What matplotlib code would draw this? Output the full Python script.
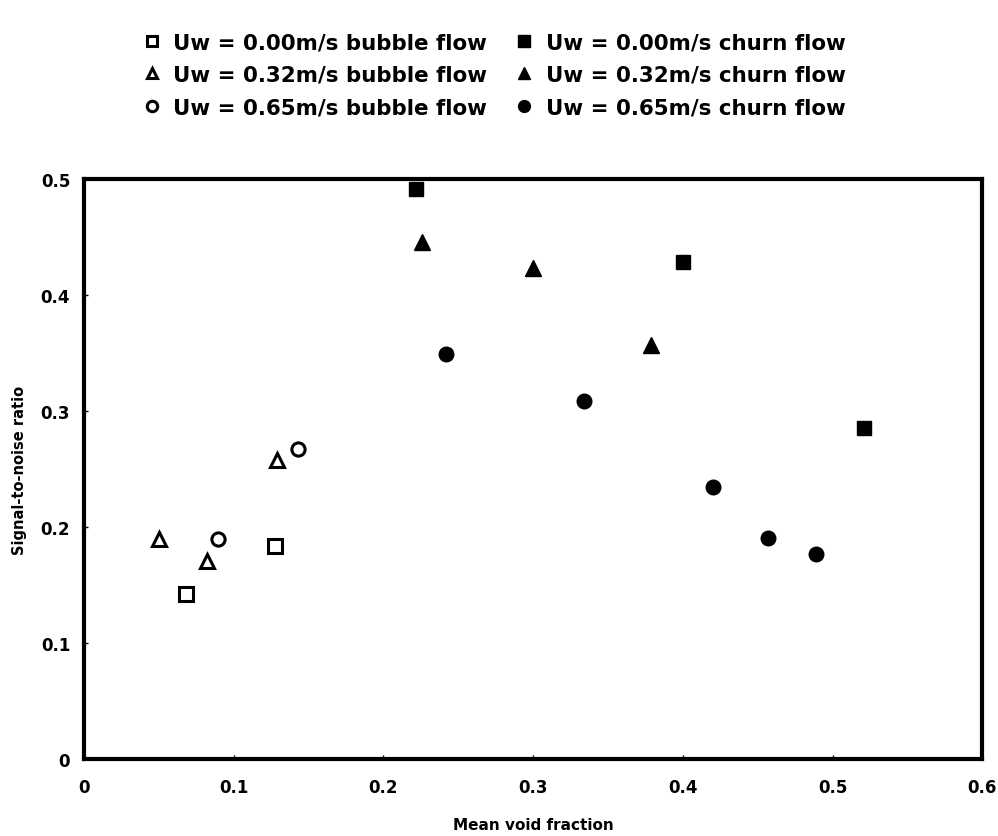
import matplotlib.pyplot as plt
from matplotlib.lines import Line2D

# Uw = 0.00 m/s
bubble_000_x = [0.068, 0.1275]
bubble_000_y = [0.142, 0.184]
churn_000_x = [0.2216, 0.400, 0.521]
churn_000_y = [0.491, 0.428, 0.285]

# Uw = 0.32 m/s
bubble_032_x = [0.050, 0.082, 0.129]
bubble_032_y = [0.190, 0.171, 0.258]
churn_032_x = [0.226, 0.300, 0.379]
churn_032_y = [0.446, 0.423, 0.357]

# Uw = 0.65 m/s
bubble_065_x = [0.0895, 0.143]
bubble_065_y = [0.190, 0.267]
churn_065_x = [0.242, 0.334, 0.420, 0.457, 0.489]
churn_065_y = [0.349, 0.309, 0.2345, 0.1905, 0.177]

x_ticks = [0, 0.1, 0.2, 0.3, 0.4, 0.5, 0.6]
y_ticks = [0, 0.1, 0.2, 0.3, 0.4, 0.5]

plt.rcParams['font.family'] = ['DejaVu Sans']
plt.rcParams['font.weight'] = 'bold'

fig = plt.figure(figsize=(9.98, 8.37), dpi=100)
ax = fig.add_axes([0.0842, 0.092, 0.9, 0.693])

open_kw = dict(linestyle='none', markerfacecolor='white', markeredgecolor='black',
               markeredgewidth=2.2, color='black')
fill_kw = dict(linestyle='none', color='black')

ax.plot(bubble_000_x, bubble_000_y, marker='s', markersize=9.5, **open_kw)
ax.plot(bubble_032_x, bubble_032_y, marker='^', markersize=9.5, **open_kw)
ax.plot(bubble_065_x, bubble_065_y, marker='o', markersize=9.5, **open_kw)
ax.plot(churn_000_x, churn_000_y, marker='s', markersize=10, **fill_kw)
ax.plot(churn_032_x, churn_032_y, marker='^', markersize=11, **fill_kw)
ax.plot(churn_065_x, churn_065_y, marker='o', markersize=10.5, **fill_kw)

ax.set_xlim(0, 0.6)
ax.set_ylim(0, 0.5)
ax.set_xticks(x_ticks)
ax.set_yticks(y_ticks)
ax.set_xticklabels([f'{t:g}' for t in x_ticks], fontsize=12, fontweight='bold')
ax.set_yticklabels([f'{t:g}' for t in y_ticks], fontsize=12, fontweight='bold')
ax.tick_params(direction='in', length=3, width=1, pad=14)
ax.tick_params(axis='y', pad=10)
for s in ax.spines.values():
    s.set_linewidth(3)

ax.set_xlabel('Mean void fraction', fontsize=11, fontweight='bold', labelpad=15)
ax.set_ylabel('Signal-to-noise ratio', fontsize=10.5, fontweight='bold', labelpad=10)

handles = [
    Line2D([], [], marker='s', markersize=7.5, **open_kw),
    Line2D([], [], marker='^', markersize=7.5, **open_kw),
    Line2D([], [], marker='o', markersize=7.5, **open_kw),
    Line2D([], [], marker='s', markersize=8.5, **fill_kw),
    Line2D([], [], marker='^', markersize=9, **fill_kw),
    Line2D([], [], marker='o', markersize=8.5, **fill_kw),
]
labels = [
    'Uw = 0.00m/s bubble flow', 'Uw = 0.32m/s bubble flow', 'Uw = 0.65m/s bubble flow',
    'Uw = 0.00m/s churn flow', 'Uw = 0.32m/s churn flow', 'Uw = 0.65m/s churn flow',
]
fig.legend(handles, labels, ncol=2, loc='upper left', bbox_to_anchor=(0.124, 0.983),
           frameon=False, prop={'size': 15.4, 'weight': 'bold'},
           handlelength=0.8, handletextpad=0.6, columnspacing=1.35, labelspacing=0.58)

fig.savefig('out.png', dpi=100)
